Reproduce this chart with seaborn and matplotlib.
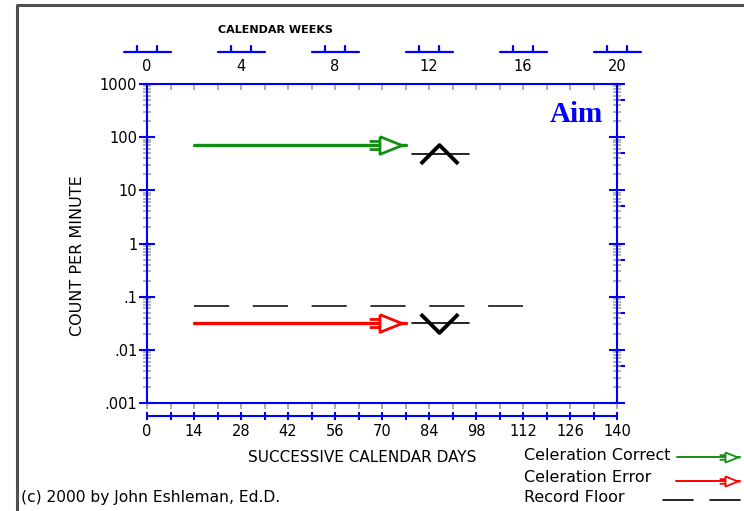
import numpy as np
import matplotlib
matplotlib.use('Agg')
import matplotlib.pyplot as plt
import seaborn as sns
from matplotlib.path import Path
import matplotlib.ticker as mticker

# ---------------- data ----------------
correct_days = [14, 77]
correct_values = [70, 70]
error_days = [14, 77]
error_values = [0.032, 0.032]
floor_days = [14, 112]
floor_values = [0.068, 0.068]
aim_days = [79, 96]
aim_mark_day = 87
aim_correct = 48
aim_error = 0.032
day_ticks = list(range(0, 141, 14))
day_minor = list(range(0, 141, 7))
week_ticks = [0, 4, 8, 12, 16, 20]
y_ticks = [0.001, 0.01, 0.1, 1, 10, 100, 1000]
y_tick_labels = ['.001', '.01', '.1', '1', '10', '100', '1000']
legend_labels = ['Celeration Correct', 'Celeration Error', 'Record Floor']

# ---------------- style ----------------
sns.set_style('white')
plt.rcParams['font.family'] = ['DejaVu Sans']
plt.rcParams['text.color'] = 'black'
plt.rcParams['xtick.labelcolor'] = 'black'
plt.rcParams['ytick.labelcolor'] = 'black'
BLUE = '#0000ff'
GREY = '#a0a0a0'
GREEN = '#139013'
RED = '#ff0000'

W, H = 744, 511
fig = plt.figure(figsize=(W / 100, H / 100), dpi=100)

L, R, T, B = 147, 617, 84, 403
ax = fig.add_axes([L / W, (H - B) / H, (R - L) / W, (B - T) / H])
ax.set_facecolor('white')
ax.set_xlim(0, 140)
ax.set_yscale('log')
ax.set_ylim(0.001, 1000)
for s in ax.spines.values():
    s.set_color(BLUE)
    s.set_linewidth(1.5)
    s.set_visible(True)

# y ticks
ax.set_yticks(y_ticks, y_tick_labels)
ax.yaxis.set_minor_locator(mticker.LogLocator(base=10, subs=np.arange(2, 10), numticks=20))
ax.yaxis.set_minor_formatter(mticker.NullFormatter())
ax.tick_params(axis='y', which='major', direction='inout', length=12, width=1.5,
               color=BLUE, left=True, right=True, labelsize=10.5, pad=1, labelcolor='black')
ax.tick_params(axis='y', which='minor', direction='inout', length=6, width=1.1,
               color=GREY, left=True, right=True)
sec_r = ax.secondary_yaxis('right')
sec_r.set_yticks([5 * t for t in y_ticks[:-1]])
sec_r.yaxis.set_minor_locator(mticker.NullLocator())
sec_r.tick_params(axis='y', which='major', direction='out', length=6, width=1.5,
                  color=BLUE, labelright=False)
sec_r.spines['right'].set_visible(False)

# x ticks: weeks on top, grey weekly ticks
ax.set_xticks([w * 7 for w in week_ticks], [str(w) for w in week_ticks])
ax.set_xticks(day_minor, minor=True)
ax.tick_params(axis='x', which='both', color=GREY, width=1.2, bottom=True, top=False,
               labelbottom=False, labeltop=True, labelsize=10.5, pad=3, labelcolor='black')
ax.tick_params(axis='x', which='both', direction='out', length=4.5)
sec_t = ax.secondary_xaxis('top')
sec_t.set_xticks(day_minor)
sec_t.tick_params(axis='x', direction='in', length=4, width=1.2, color=GREY, labeltop=False)
sec_t.spines['top'].set_visible(False)

# lower day axis
sec_b = ax.secondary_xaxis(-(416 - B) / (B - T))
sec_b.set_xticks(day_ticks)
sec_b.set_xticks(day_minor, minor=True)
sec_b.spines['bottom'].set_color(BLUE)
sec_b.spines['bottom'].set_linewidth(1.5)
sec_b.tick_params(axis='x', which='both', direction='inout', length=6, width=1.5,
                  color=BLUE, labelsize=10.5, pad=3, labelcolor='black')

# week groups above the chart
wtrans = ax.get_xaxis_transform()
yg = (B - 52) / (B - T)
yt = (B - 46) / (B - T)
for w in week_ticks:
    d = w * 7
    ax.plot([d - 7, d + 7], [yg, yg], color=BLUE, lw=1.6, transform=wtrans, clip_on=False)
    for off in (-3, 3):
        ax.plot([d + off, d + off], [yg, yt], color=BLUE, lw=1.6, transform=wtrans, clip_on=False)

# ---------------- marks ----------------
arrow_path = Path(
    [(-0.72, 0.24), (-0.12, 0.0), (-0.72, -0.24), (-0.72, 0.24),
     (-0.12, 0.0), (0.0, 0.0),
     (-1.0, 0.11), (-0.72, 0.11),
     (-1.0, -0.11), (-0.72, -0.11)],
    [Path.MOVETO, Path.LINETO, Path.LINETO, Path.LINETO,
     Path.MOVETO, Path.LINETO,
     Path.MOVETO, Path.LINETO,
     Path.MOVETO, Path.LINETO])
chevron_up = Path([(-1, -0.5), (0, 0.5), (1, -0.5)], [Path.MOVETO, Path.LINETO, Path.LINETO])
chevron_dn = Path([(-1, 0.5), (0, -0.5), (1, 0.5)], [Path.MOVETO, Path.LINETO, Path.LINETO])

sns.lineplot(x=correct_days, y=correct_values, ax=ax, color=GREEN, linewidth=2.4)
sns.lineplot(x=error_days, y=error_values, ax=ax, color=RED, linewidth=2.4)
ax.plot(correct_days[-1:], correct_values[-1:], marker=arrow_path, ms=53, mfc='white',
        mec=GREEN, mew=2.0, ls='none', zorder=5)
ax.plot(error_days[-1:], error_values[-1:], marker=arrow_path, ms=53, mfc='white',
        mec=RED, mew=2.0, ls='none', zorder=5)
ax.plot(floor_days, floor_values, color='black', lw=1.1, dashes=(23, 15.5),
        solid_capstyle='butt', dash_capstyle='butt')

for val, mk in ((aim_correct, chevron_up), (aim_error, chevron_dn)):
    ax.plot(aim_days, [val, val], color='black', lw=1.2)
    ax.plot([aim_mark_day], [val], marker=mk, ms=27, mfc='none', mec='black', mew=2.8,
            ls='none', zorder=6)

ax.text(0.913, 0.905, 'Aim', transform=ax.transAxes, ha='center', va='center',
        color=BLUE, fontsize=21, fontweight='bold', family=['Liberation Serif', 'DejaVu Serif'])

# ---------------- overlay texts / legend ----------------
ov = fig.add_axes([0, 0, 1, 1], zorder=-1)
ov.set_xlim(0, W)
ov.set_ylim(H, 0)
ov.axis('off')
ov.plot([17, 17, W + 5], [H + 5, 5, 5], color='#505050', lw=2.2, clip_on=False)

fig.text(275 / W, 1 - 30 / H, 'CALENDAR WEEKS', ha='center', va='center', fontsize=8,
         fontweight='bold', color='black')
fig.text(78 / W, 1 - 256 / H, 'COUNT PER MINUTE', rotation=90, ha='center', va='center',
         fontsize=11.5, color='black')
fig.text(362 / W, 1 - 458 / H, 'SUCCESSIVE CALENDAR DAYS', ha='center', va='center',
         fontsize=11, color='black')
fig.text(21 / W, 1 - 497 / H, '(c) 2000 by John Eshleman, Ed.D.', ha='left', va='center',
         fontsize=11.2, color='black')

ov2 = fig.add_axes([0, 0, 1, 1])
ov2.set_xlim(0, W)
ov2.set_ylim(H, 0)
ov2.axis('off')
ov2.patch.set_alpha(0)
leg_y = [456, 478, 497]
for lab, y in zip(legend_labels, leg_y):
    ov2.text(524, y, lab, ha='left', va='center', fontsize=11.5, color='black')
ov2.plot([677, 740], [457, 457], color=GREEN, lw=1.4)
ov2.plot([740], [457], marker=arrow_path, ms=30, mfc='white', mec=GREEN, mew=1.3, ls='none')
ov2.plot([676, 740], [481, 481], color=RED, lw=1.4)
ov2.plot([740], [481], marker=arrow_path, ms=30, mfc='white', mec=RED, mew=1.3, ls='none')
ov2.plot([663, 693], [500, 500], color='black', lw=1.2)
ov2.plot([710, 740], [500, 500], color='black', lw=1.2)

fig.savefig('out.png', dpi=100)
